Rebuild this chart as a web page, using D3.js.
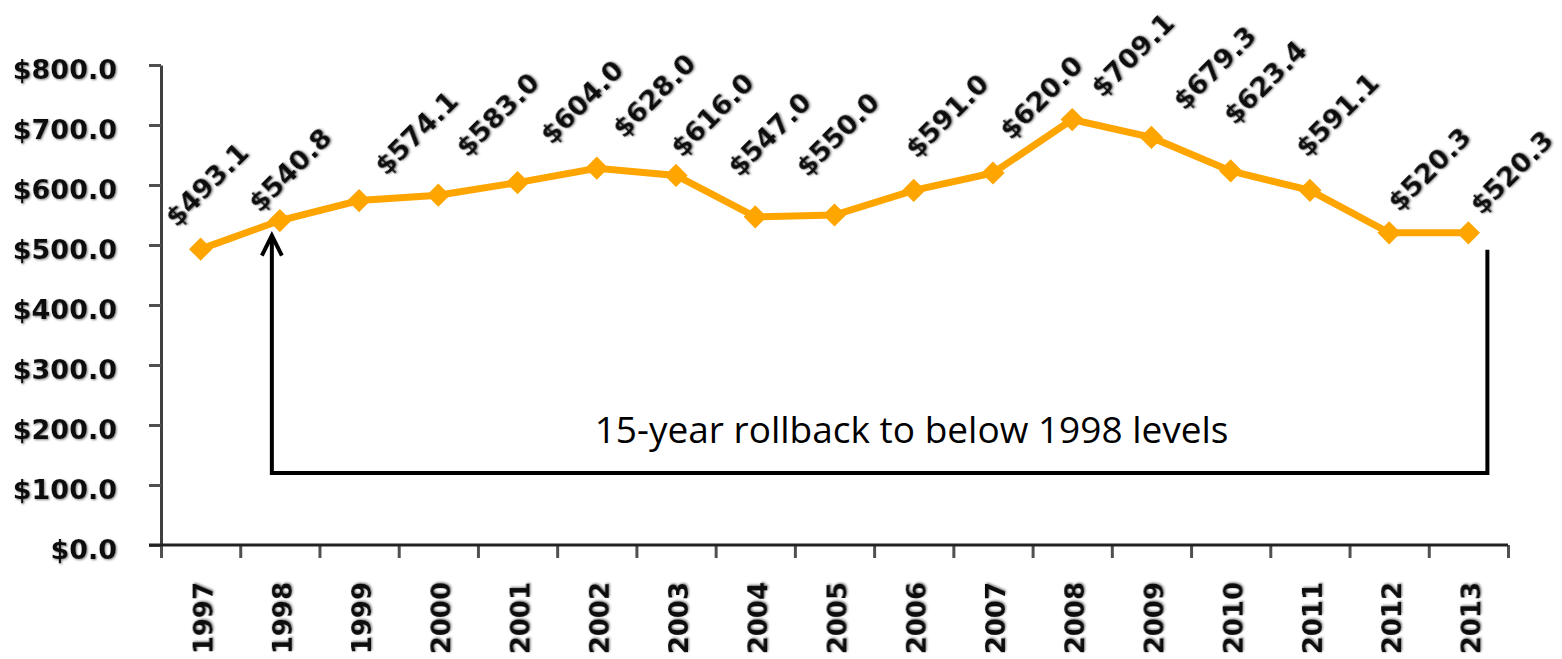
<!DOCTYPE html>
<html>
<head>
<meta charset="utf-8">
<script src="https://cdn.jsdelivr.net/npm/d3@7"></script>
<style>
  body { margin: 0; background: #fff; }
  svg { display: block; }
  .lbl { font-family: "DejaVu Sans", sans-serif; font-weight: bold; fill: #111; }
</style>
</head>
<body>
<svg id="chart"></svg>
<script>
// данные графика
const years = ["1997", "1998", "1999", "2000", "2001", "2002", "2003", "2004", "2005",
    "2006", "2007", "2008", "2009", "2010", "2011", "2012", "2013"];
const values = [493.1, 540.8, 574.1, 583.0, 604.0, 628.0, 616.0, 547.0, 550.0,
    591.0, 620.0, 709.1, 679.3, 623.4, 591.1, 520.3, 520.3];
const yTicks = [0, 100, 200, 300, 400, 500, 600, 700, 800];
const noteText = "15-year rollback to below 1998 levels";
const noteFrom = "1998", noteTo = "2013", noteLevel = 120;

// сдвиги подписей значений относительно точек (в пикселях)
const labelNudge = [[-24, -21], [-20, -7], [27, -24], [29, -37], [34, -37], [27, -29],
    [6, -17], [-16, -39], [-27, -37], [3, -31], [18, -32], [30, -21], [33, -26],
    [4, -45], [-3, -32], [10, -20], [13, -17]];

const width = 1562, height = 659;
const mLeft = 161, mRight = 1508, mTop = 65, mBottom = 545;

let svg = d3.select("#chart").attr("width", width).attr("height", height);

let defs = svg.append("defs");
defs.append("filter").attr("id", "shadow")
    .attr("x", "-10%").attr("y", "-10%").attr("width", "130%").attr("height", "130%")
    .append("feDropShadow")
    .attr("dx", 1).attr("dy", 1).attr("stdDeviation", 1.2)
    .attr("flood-color", "#666").attr("flood-opacity", 0.8);

let scaleX = d3.scaleBand().domain(years).range([mLeft, mRight]);
let scaleY = d3.scaleLinear().domain([0, 800]).range([mBottom, mTop]);
let cx = d => scaleX(d) + scaleX.bandwidth() / 2;

// ось OY
let axisY = d3.axisLeft(scaleY)
    .tickValues(yTicks)
    .tickFormat(d3.format("$.1f"))
    .tickSize(12)
    .tickSizeOuter(0)
    .tickPadding(32);
let gY = svg.append("g")
    .attr("transform", `translate(${mLeft}, 0)`)
    .call(axisY);
gY.select(".domain").attr("stroke", "#404040").attr("stroke-width", 3);
gY.selectAll(".tick line").attr("stroke", "#505050").attr("stroke-width", 3);
gY.selectAll(".tick text")
    .attr("class", "lbl")
    .attr("dy", "0.5em")
    .style("font-size", "27px")
    .attr("filter", "url(#shadow)");

// деления оси OX на границах категорий
let scaleEdge = d3.scaleLinear().domain([0, years.length]).range([mLeft, mRight]);
let axisEdge = d3.axisBottom(scaleEdge)
    .tickValues(d3.range(years.length + 1))
    .tickFormat("")
    .tickSize(13)
    .tickSizeOuter(0);
let gEdge = svg.append("g")
    .attr("transform", `translate(0, ${mBottom})`)
    .call(axisEdge);
gEdge.select(".domain").remove();
gEdge.selectAll(".tick line").attr("stroke", "#505050").attr("stroke-width", 3);

svg.append("line")
    .attr("x1", mLeft - 12).attr("x2", mRight)
    .attr("y1", mBottom).attr("y2", mBottom)
    .attr("stroke", "#222").attr("stroke-width", 3);

// подписи годов
let axisX = d3.axisBottom(scaleX).tickSize(0).tickSizeOuter(0);
let gX = svg.append("g")
    .attr("transform", `translate(0, ${mBottom})`)
    .call(axisX);
gX.select(".domain").remove();
gX.selectAll(".tick text")
    .attr("class", "lbl")
    .style("font-size", "26px")
    .style("text-anchor", "end")
    .attr("transform", "rotate(-90)")
    .attr("x", -37)
    .attr("y", 0)
    .attr("dy", "0.45em")
    .attr("filter", "url(#shadow)");

// линия
let points = years.map((y, i) => ({ year: y, value: values[i], i: i }));
svg.append("path")
    .datum(points)
    .attr("fill", "none")
    .attr("stroke", "#ffa500")
    .attr("stroke-width", 7)
    .attr("d", d3.line().x(d => cx(d.year)).y(d => scaleY(d.value)));

svg.selectAll(".dot")
    .data(points)
    .enter()
    .append("path")
    .attr("d", d3.symbol(d3.symbolSquare, 270))
    .attr("transform", d => `translate(${cx(d.year)}, ${scaleY(d.value)}) rotate(45)`)
    .attr("fill", "#ffa500");

// подписи значений
svg.selectAll(".val")
    .data(points)
    .enter()
    .append("text")
    .attr("class", "lbl")
    .style("font-size", "27px")
    .attr("transform", d => {
        let n = labelNudge[d.i];
        return `translate(${cx(d.year) + n[0]}, ${scaleY(d.value) + n[1]}) rotate(-45)`;
    })
    .attr("filter", "url(#shadow)")
    .text(d => "$" + d.value.toFixed(1));

// скобка с пояснением
let iFrom = years.indexOf(noteFrom), iTo = years.indexOf(noteTo);
let xL = cx(noteFrom) - 8, xR = cx(noteTo) + 19;
let yB = scaleY(noteLevel);
let yTipL = scaleY(values[iFrom]) + 15, yTopR = scaleY(values[iTo]) + 17;
svg.append("path")
    .attr("d", `M${xL},${yTipL + 2} L${xL},${yB} L${xR},${yB} L${xR},${yTopR}`)
    .attr("fill", "none")
    .attr("stroke", "#000")
    .attr("stroke-width", 4);
svg.append("path")
    .attr("d", `M${xL - 10},${yTipL + 20} L${xL},${yTipL} L${xL + 10},${yTipL + 20}`)
    .attr("fill", "none")
    .attr("stroke", "#000")
    .attr("stroke-width", 4);
svg.append("text")
    .attr("x", (xL + xR) / 2 + 32)
    .attr("y", yB - 30)
    .attr("text-anchor", "middle")
    .style("font-family", "'Open Sans', sans-serif")
    .style("font-size", "37px")
    .style("fill", "#000")
    .text(noteText);
</script>
</body>
</html>
